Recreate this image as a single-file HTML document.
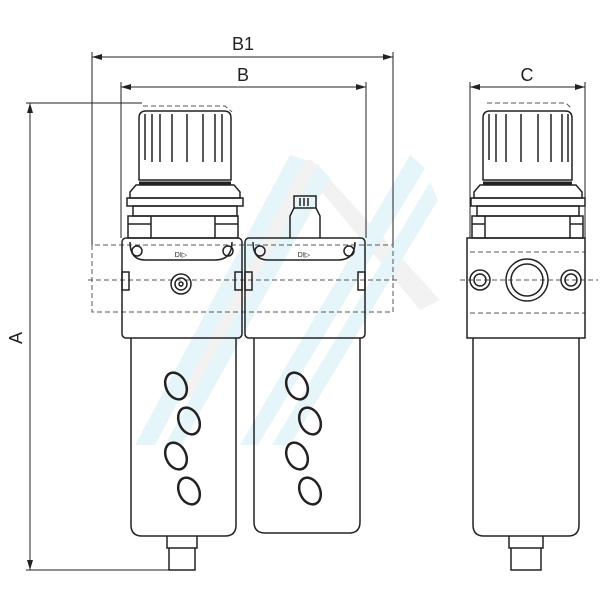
<!DOCTYPE html>
<html><head><style>body{margin:0;background:#fff}svg{display:block}</style></head><body>
<svg width="600" height="600" viewBox="0 0 600 600" xmlns="http://www.w3.org/2000/svg" font-family="Liberation Sans, sans-serif">
<defs><marker id="ar" viewBox="0 0 10 6" refX="10" refY="3" markerWidth="10" markerHeight="6" orient="auto-start-reverse"><path d="M0,0L10,3L0,6z" fill="#222"/></marker></defs>
<!-- watermark -->
<g opacity="0.22">
<polygon points="295,160 312,160 440,300 420,310" fill="#c8c8c8"/>
<polygon points="300,160 320,165 200,400 180,395" fill="#c8c8c8"/>
<polygon points="135,445 290,155 305,160 155,445" fill="#8fd3e6"/>
<polygon points="165,445 318,165 330,178 182,445" fill="#8fd3e6"/>
<polygon points="240,445 410,155 425,168 258,445" fill="#8fd3e6"/>
<polygon points="272,445 430,182 438,200 290,445" fill="#8fd3e6"/>
</g>
<g stroke="#222" fill="none" stroke-width="1">
<!-- dims -->
<line x1="92" y1="57" x2="393" y2="57" marker-start="url(#ar)" marker-end="url(#ar)"/>
<line x1="92" y1="52" x2="92" y2="245"/><line x1="393" y1="52" x2="393" y2="245"/>
<line x1="121" y1="87" x2="366" y2="87" marker-start="url(#ar)" marker-end="url(#ar)"/>
<line x1="121" y1="82" x2="121" y2="238"/><line x1="366" y1="82" x2="366" y2="238"/>
<line x1="30" y1="103" x2="30" y2="570" marker-start="url(#ar)" marker-end="url(#ar)"/>
<line x1="26" y1="103" x2="142" y2="103"/><line x1="26" y1="570" x2="170" y2="570"/>
<line x1="470" y1="87" x2="585" y2="87" marker-start="url(#ar)" marker-end="url(#ar)"/>
<line x1="470" y1="82" x2="470" y2="238"/><line x1="585" y1="82" x2="585" y2="238"/>
<g stroke-dasharray="5,3" stroke="#555">
<path d="M92,245 V312 H393 V245 Z"/>
<line x1="88" y1="280" x2="400" y2="280"/>
<line x1="460" y1="280" x2="598" y2="280"/>
<path d="M143,106 H225 L232,112"/><path d="M487,103 H566 L572,109"/>
<line x1="470" y1="252" x2="585" y2="252"/><line x1="470" y1="313" x2="585" y2="313"/>
</g>
<!-- left unit -->
<g stroke-width="1.5">
<path d="M139,180 V118 Q139,111 146,111 H224 Q231,111 231,118 V180 Z"/>
<path d="M145,160V114M152,162V114M160,162V114M172,162V114M187,162V114M203,162V114M215,162V114M222,162V114"/>
<line x1="139" y1="183" x2="231" y2="183" stroke-width="3"/>
<path d="M130,192 L136,185 H234 L240,192 V198 H130 Z"/>
<path d="M127,198 H243 V206 H127 Z"/>
<path d="M133,206 H237 V216 H133 Z"/>
<path d="M128,216 H238 V238 H128 Z M128,224 H151 M215,224 H238 M151,216 V238 M215,216 V238"/>
<rect x="122" y="238" width="120" height="100" rx="4"/>
<path d="M130,242 Q130,260 145,260 H215 Q232,260 232,242"/>
<circle cx="137" cy="251" r="5"/><circle cx="228" cy="251" r="5"/>
<circle cx="181" cy="284" r="10"/><circle cx="181" cy="284" r="6"/><circle cx="181" cy="284" r="2"/>
<rect x="122" y="272" width="7" height="18"/><rect x="235" y="272" width="7" height="18"/>
<path d="M131,338 V525 Q131,536 142,536 H225 Q236,536 236,525 V338"/>
<path d="M167,536 V548 H197 V536 M169,548 V570 H195 V548"/>
<!-- second unit -->
<path d="M290,238 V216 L294,208 V196 H316 V208 L320,216 V238 M294,208 H316"/>
<path d="M300,198V206M304,198V206M308,198V206"/>
<rect x="245" y="238" width="120" height="100" rx="4"/>
<path d="M253,242 Q253,260 268,260 H338 Q355,260 355,242"/>
<circle cx="260" cy="251" r="5"/><circle cx="349" cy="251" r="5"/>
<rect x="245" y="272" width="7" height="18"/><rect x="358" y="272" width="7" height="18"/>
<path d="M254,338 V522 Q254,533 265,533 H349 Q360,533 360,522 V338"/>
<!-- right view -->
<path d="M483,180 V118 Q483,111 490,111 H565 Q572,111 572,118 V180 Z"/>
<path d="M489,160V114M496,162V114M506,162V114M521,162V114M538,162V114M551,162V114M562,162V114M568,162V114"/>
<line x1="483" y1="183" x2="572" y2="183" stroke-width="3"/>
<path d="M474,192 L480,185 H576 L582,192 V198 H474 Z"/>
<path d="M471,198 H585 V206 H471 Z"/>
<path d="M477,206 H579 V216 H477 Z"/>
<path d="M472,216 H583 V238 H472 Z M472,224 H485 M570,224 H583 M485,216V238 M570,216V238"/>
<rect x="467" y="238" width="118" height="100"/>
<circle cx="527" cy="280" r="21"/><circle cx="527" cy="280" r="16"/>
<circle cx="480" cy="280" r="10"/><circle cx="480" cy="280" r="6"/>
<circle cx="571" cy="280" r="10"/><circle cx="571" cy="280" r="6"/>
<path d="M473,338 V525 Q473,536 484,536 H568 Q579,536 579,525 V338"/>
<path d="M509,536 V548 H543 V536 M511,548 V570 H541 V548"/>
</g>
<g stroke-width="2.5">
<ellipse cx="176" cy="386" rx="10" ry="14" transform="rotate(-25 176 386)"/>
<ellipse cx="189" cy="421" rx="10" ry="14" transform="rotate(-25 189 421)"/>
<ellipse cx="176" cy="456" rx="10" ry="14" transform="rotate(-25 176 456)"/>
<ellipse cx="189" cy="491" rx="10" ry="14" transform="rotate(-25 189 491)"/>
<ellipse cx="297" cy="386" rx="10" ry="14" transform="rotate(-25 297 386)"/>
<ellipse cx="310" cy="421" rx="10" ry="14" transform="rotate(-25 310 421)"/>
<ellipse cx="297" cy="456" rx="10" ry="14" transform="rotate(-25 297 456)"/>
<ellipse cx="310" cy="491" rx="10" ry="14" transform="rotate(-25 310 491)"/>
</g>
</g>
<g fill="#222" font-size="18">
<text x="243" y="50" text-anchor="middle">B1</text>
<text x="243" y="81" text-anchor="middle">B</text>
<text x="527" y="81" text-anchor="middle">C</text>
<text x="22" y="338" text-anchor="middle" transform="rotate(-90 22 338)">A</text>
<text x="181" y="257" font-size="7" text-anchor="middle">DI▷</text>
<text x="304" y="257" font-size="7" text-anchor="middle">DI▷</text>
</g>
</svg>
</body></html>
